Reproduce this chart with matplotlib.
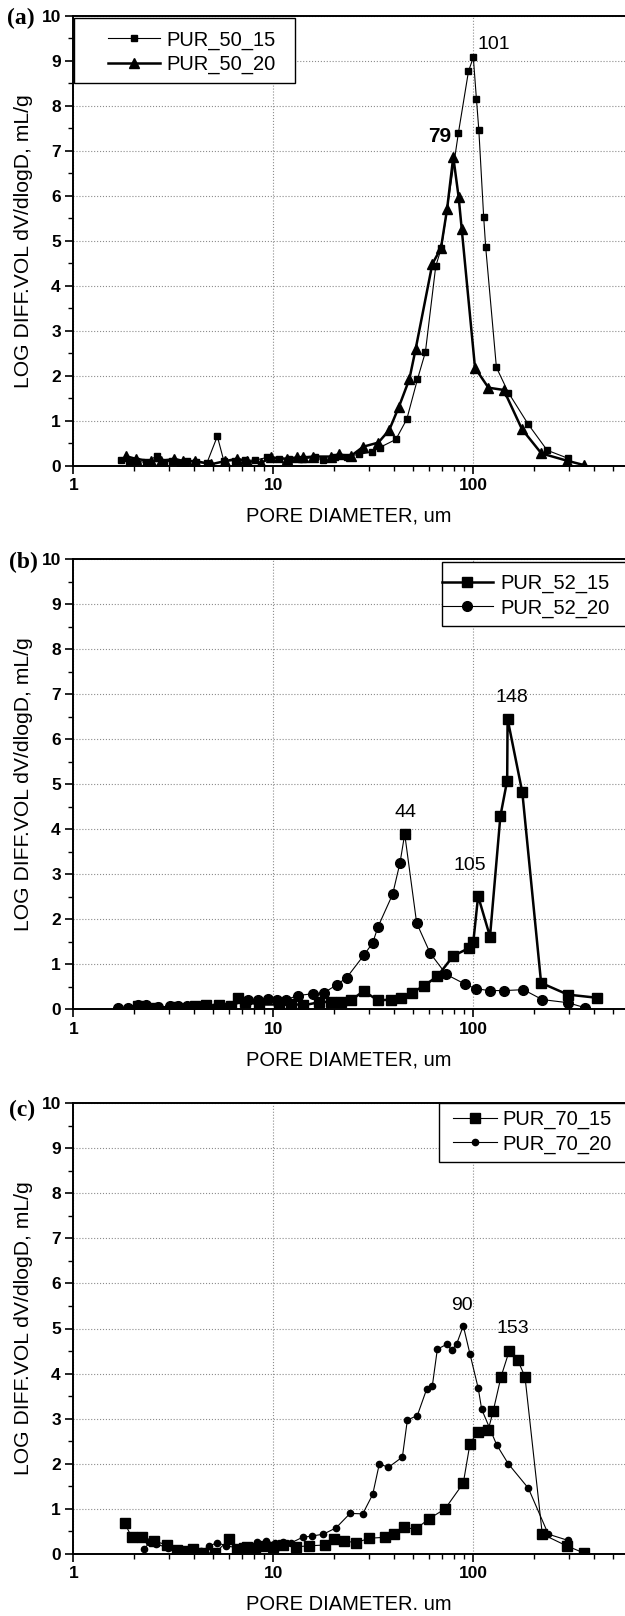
import numpy as np
import matplotlib
matplotlib.use("Agg")
import matplotlib.pyplot as plt
from matplotlib.ticker import LogLocator, NullFormatter, MultipleLocator
from matplotlib.patches import Rectangle

plt.rcParams['font.family'] = ['Liberation Sans', 'DejaVu Sans']

# ---------------- data ----------------
x_major = [1, 10, 100]
x_labels = ['1', '10', '100']
y_major = list(range(0, 11))
y_labels = [str(v) for v in y_major]

# Panel (a)
d50_15 = [1.74, 1.90, 2.05, 2.30, 2.61, 2.85, 3.10, 3.40, 3.72, 4.10, 4.65, 5.25, 5.66, 6.45,
          7.20, 8.12, 9.31, 10.7, 12.0, 14.1, 16.2, 17.7, 20.3, 23.3, 26.8, 31.2, 34.0, 41.0,
          46.5, 52.6, 57.6, 64.9, 69.3, 84.3, 94.6, 100, 103.7, 106.6, 112.7, 115.3, 130.5,
          149.8, 188, 234, 298]
v50_15 = [0.13, 0.09, 0.11, 0.08, 0.22, 0.08, 0.11, 0.07, 0.11, 0.08, 0.06, 0.66, 0.11, 0.12,
          0.13, 0.13, 0.19, 0.16, 0.15, 0.16, 0.19, 0.13, 0.19, 0.21, 0.26, 0.31, 0.41, 0.59,
          1.04, 1.93, 2.53, 4.44, 4.85, 7.41, 8.77, 9.08, 8.15, 7.46, 5.53, 4.87, 2.19,
          1.63, 0.93, 0.35, 0.17]
d50_20 = [1.83, 2.05, 2.44, 2.76, 3.20, 3.55, 4.08, 4.90, 5.75, 6.60, 7.41, 8.70, 9.75, 11.7,
          13.1, 14.1, 15.8, 19.4, 21.3, 24.4, 28.2, 33.5, 38.0, 42.5, 47.9, 51.5, 62.4, 68.9,
          73.9, 79.4, 84.5, 87.5, 102, 119, 142, 175, 219, 293, 358]
v50_20 = [0.22, 0.16, 0.11, 0.11, 0.16, 0.11, 0.11, 0.04, 0.11, 0.16, 0.11, 0.07, 0.19, 0.16,
          0.19, 0.19, 0.21, 0.21, 0.26, 0.22, 0.43, 0.52, 0.80, 1.32, 1.93, 2.60, 4.49, 4.84,
          5.70, 6.87, 5.97, 5.27, 2.18, 1.74, 1.69, 0.82, 0.28, 0.12, 0.02]

# Panel (b)
d52_15 = [2.10, 2.58, 3.24, 4.08, 4.61, 5.37, 6.17, 6.69, 7.24, 8.50, 10.7, 12.3, 14.1, 16.9,
          19.4, 21.8, 24.4, 28.3, 33.4, 38.6, 43.4, 49.1, 56.5, 66.2, 79.4, 95.5, 100, 105.7,
          121.2, 136.6, 147.7, 148.4, 175.8, 218.3, 297, 415]
v52_15 = [0.06, 0.03, 0.04, 0.06, 0.08, 0.08, 0.06, 0.25, 0.16, 0.10, 0.10, 0.12, 0.08, 0.15,
          0.16, 0.15, 0.19, 0.40, 0.19, 0.21, 0.24, 0.36, 0.51, 0.73, 1.18, 1.36, 1.49, 2.51,
          1.61, 4.29, 5.08, 6.45, 4.82, 0.58, 0.32, 0.25]
d52_20 = [1.68, 1.87, 2.10, 2.30, 2.64, 3.03, 3.32, 3.69, 4.68, 5.25, 6.03, 7.47, 8.42, 9.40,
          10.4, 11.6, 13.3, 15.8, 17.9, 20.8, 23.3, 28.3, 31.4, 33.4, 39.5, 43.0, 45.4, 52.1,
          60.9, 73.2, 91.2, 102.8, 120.6, 143, 178.2, 221, 297, 361]
v52_20 = [0.03, 0.03, 0.08, 0.08, 0.04, 0.06, 0.06, 0.06, 0.06, 0.04, 0.06, 0.19, 0.19, 0.23,
          0.19, 0.21, 0.30, 0.34, 0.36, 0.54, 0.70, 1.19, 1.47, 1.83, 2.55, 3.25, 3.89, 1.91,
          1.24, 0.77, 0.55, 0.45, 0.41, 0.41, 0.43, 0.21, 0.14, 0.03]

# Panel (c)
d70_15 = [1.81, 1.96, 2.20, 2.54, 2.93, 3.29, 3.55, 3.95, 4.47, 5.11, 6.03, 6.56, 7.14, 7.41,
          8.10, 8.75, 10.0, 11.2, 13.0, 15.0, 18.1, 20.2, 22.6, 25.9, 30.2, 36.2, 40.3, 45.0,
          51.5, 60.0, 72.2, 89.1, 96.3, 105.2, 118.9, 125.9, 137.6, 151.4, 166.7, 181.3,
          221.3, 293.1, 359]
v70_15 = [0.68, 0.37, 0.38, 0.29, 0.20, 0.09, 0.06, 0.10, 0.03, 0.02, 0.33, 0.12, 0.14, 0.15,
          0.13, 0.17, 0.16, 0.19, 0.16, 0.18, 0.20, 0.33, 0.29, 0.25, 0.35, 0.37, 0.44, 0.59,
          0.55, 0.78, 1.00, 1.57, 2.45, 2.71, 2.76, 3.18, 3.93, 4.51, 4.30, 3.93,
          0.44, 0.18, 0.02]
d70_20 = [2.26, 2.40, 2.60, 2.96, 3.58, 4.37, 4.79, 5.25, 5.81, 6.60, 7.30, 8.31, 9.23, 10.2,
          11.2, 12.3, 14.0, 15.7, 17.8, 20.6, 24.2, 28.0, 31.4, 33.9, 37.6, 44.2, 46.8, 52.5,
          58.5, 62.4, 66.1, 73.6, 78.0, 82.6, 89.1, 96.3, 105.9, 110.1, 130.9, 149.6, 188.4,
          237.1, 298.5]
v70_20 = [0.10, 0.26, 0.22, 0.14, 0.08, 0.06, 0.18, 0.25, 0.18, 0.14, 0.18, 0.26, 0.28, 0.24,
          0.26, 0.25, 0.37, 0.40, 0.44, 0.58, 0.90, 0.89, 1.32, 2.00, 1.92, 2.15, 2.97, 3.07,
          3.66, 3.73, 4.54, 4.65, 4.52, 4.66, 5.06, 4.43, 3.67, 3.21, 2.42, 2.00, 1.46,
          0.44, 0.30]

# ---------------- layout helpers ----------------
W, H = 625, 1616
fig = plt.figure(figsize=(W / 100, H / 100), dpi=100)


def fx(px):
    return px / W


def fy(py):
    return 1 - py / H


AX_LEFT = 73.3
XMAX = 10 ** ((W - AX_LEFT) / 200.0)


def make_ax(top, bottom, xlabel):
    ax = fig.add_axes([fx(AX_LEFT), fy(bottom), 1 - fx(AX_LEFT), (bottom - top) / H])
    ax.set_xscale('log')
    ax.set_xlim(1, XMAX)
    ax.set_ylim(0, 10)
    ax.spines['right'].set_visible(False)
    for s in ['left', 'top', 'bottom']:
        ax.spines[s].set_linewidth(1.4)
    ax.xaxis.set_minor_locator(LogLocator(base=10, subs=np.arange(2, 10), numticks=20))
    ax.xaxis.set_minor_formatter(NullFormatter())
    ax.yaxis.set_minor_locator(MultipleLocator(0.5))
    ax.tick_params(which='major', direction='out', length=6, width=1.2, pad=3)
    ax.tick_params(which='minor', direction='out', length=3.3, width=1.0)
    ax.tick_params(which='both', top=False, right=False)
    ax.set_xticks(x_major)
    ax.set_xticklabels(x_labels, fontsize=12.5, fontweight='bold')
    ax.set_yticks(y_major)
    ax.set_yticklabels(y_labels, fontsize=12.5, fontweight='bold')
    ax.grid(True, which='major', ls=':', color='#8c8c8c', lw=0.8)
    ax.set_axisbelow(True)
    ax.set_xlabel(xlabel, fontsize=14.5)
    ax.xaxis.set_label_coords(0.5, -41.0 / (bottom - top))
    ax.set_ylabel('LOG DIFF.VOL dV/dlogD, mL/g', fontsize=15.2)
    ax.yaxis.set_label_coords((33 - AX_LEFT) / (W - AX_LEFT), 0.5)
    return ax


def legend_box(ax, x0, y0, x1, y1):
    r = Rectangle((fx(x0), fy(y1)), (x1 - x0) / W, (y1 - y0) / H, transform=fig.transFigure,
                  facecolor='white', edgecolor='black', lw=1.0, clip_on=False, zorder=4)
    ax.add_artist(r)


def add_legend(ax, handles, labels, hx, ymid, hl, tp):
    ax.legend(handles, labels, loc='center left', bbox_to_anchor=(fx(hx), fy(ymid)),
              bbox_transform=fig.transFigure, frameon=False, borderpad=0, borderaxespad=0,
              handlelength=hl, handletextpad=tp, labelspacing=0.25, fontsize=14.5)


# ---------------- panel (a) ----------------
ax1 = make_ax(16, 466, 'PORE DIAMETER, um')
l1, = ax1.plot(d50_15, v50_15, '-', color='black', lw=0.8, marker='s', ms=4.2, zorder=3)
l2, = ax1.plot(d50_20, v50_20, '-', color='black', lw=1.8, marker='^', ms=7.5, zorder=3)
ax1.text(126, 9.36, '101', fontsize=14, ha='center', va='center')
ax1.text(68.2, 7.32, '79', fontsize=15, fontweight='bold', ha='center', va='center')
legend_box(ax1, 74, 18.3, 295, 83.3)
add_legend(ax1, [l1, l2], ['PUR_50_15', 'PUR_50_20'], 108, 52.2, 2.6, 0.28)
fig.text(fx(21), fy(18), '(a)', family=['Liberation Serif', 'DejaVu Serif'], weight='bold',
         fontsize=17, ha='center', va='center')

# ---------------- panel (b) ----------------
ax2 = make_ax(559.3, 1009, 'PORE DIAMETER, um')
l3, = ax2.plot(d52_15, v52_15, '-', color='black', lw=1.8, marker='s', ms=6.5, zorder=3)
l4, = ax2.plot(d52_20, v52_20, '-', color='black', lw=0.8, marker='o', ms=7, zorder=3)
ipk = int(np.argmax(v52_20))
ax2.plot([d52_20[ipk]], [v52_20[ipk]], 's', color='black', ms=7, zorder=4)
ax2.text(155.6, 6.93, '148', fontsize=14, ha='center', va='center')
ax2.text(45.9, 4.38, '44', fontsize=14, ha='center', va='center')
ax2.text(96.3, 3.2, '105', fontsize=14, ha='center', va='center')
legend_box(ax2, 441.7, 561.7, 720, 626)
add_legend(ax2, [l3, l4], ['PUR_52_15', 'PUR_52_20'], 441.7, 595.8, 2.55, 0.35)
fig.text(fx(23), fy(562), '(b)', family=['Liberation Serif', 'DejaVu Serif'], weight='bold',
         fontsize=17, ha='center', va='center')

# ---------------- panel (c) ----------------
ax3 = make_ax(1103, 1554, 'PORE DIAMETER. um')
l5, = ax3.plot(d70_15, v70_15, '-', color='black', lw=0.8, marker='s', ms=7, zorder=3)
l6, = ax3.plot(d70_20, v70_20, '-', color='black', lw=0.8, marker='o', ms=4.5, zorder=3)
ax3.text(87.5, 5.5, '90', fontsize=14, ha='center', va='center')
ax3.text(158.5, 4.99, '153', fontsize=14, ha='center', va='center')
legend_box(ax3, 438.6, 1103, 720, 1162)
add_legend(ax3, [l5, l6], ['PUR_70_15', 'PUR_70_20'], 452.5, 1132, 2.2, 0.26)
fig.text(fx(22), fy(1110), '(c)', family=['Liberation Serif', 'DejaVu Serif'], weight='bold',
         fontsize=17, ha='center', va='center')

fig.savefig('out.png', dpi=100)
